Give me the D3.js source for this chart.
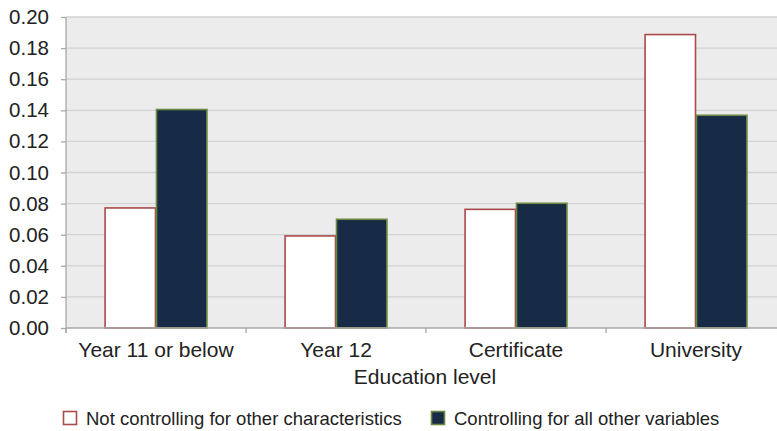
<!DOCTYPE html>
<html>
<head>
<meta charset="utf-8">
<script src="https://cdn.jsdelivr.net/npm/d3@7"></script>
<style>
  html, body { margin: 0; padding: 0; background: #fff; }
  svg { display: block; font-family: "Liberation Sans", Arial, Helvetica, sans-serif; }
</style>
</head>
<body>
<svg id="chart" width="777" height="431"></svg>
<script>
// Education level categories and the two estimate series
const categories = ["Year 11 or below", "Year 12", "Certificate", "University"];
const seriesNames = ["Not controlling for other characteristics", "Controlling for all other variables"];
const notControlling = [0.0772, 0.0592, 0.0763, 0.1887];
const controlling = [0.1405, 0.0699, 0.0802, 0.1368];
const yTicks = [0, 0.02, 0.04, 0.06, 0.08, 0.10, 0.12, 0.14, 0.16, 0.18, 0.20];

const rows = categories.map((c, i) => ({ category: c, values: [notControlling[i], controlling[i]] }));

const svg = d3.select("#chart");
const margin = { left: 66, top: 17, bottom: 328 };
const plotRight = 786; // plot extends slightly past the canvas edge

const x0 = d3.scaleBand().domain(categories).range([margin.left, plotRight]).padding(0);
const x1 = d3.scaleBand().domain([0, 1]).range([0, x0.bandwidth()]).paddingInner(0).paddingOuter(0.75);
const y = d3.scaleLinear().domain([0, 0.20]).range([margin.bottom, margin.top]);

const fills = ["#ffffff", "#172a46"];
const strokes = ["#a94a4a", "#6b8740"];
const axisColor = "#a8a8a8";

// plot background
svg.append("rect")
  .attr("x", margin.left).attr("y", y(0.20))
  .attr("width", plotRight - margin.left).attr("height", y(0) - y(0.20))
  .attr("fill", "#ececec");

// horizontal grid lines
svg.append("g").selectAll("line").data(yTicks.filter(d => d > 0)).join("line")
  .attr("x1", margin.left).attr("x2", plotRight)
  .attr("y1", d => y(d)).attr("y2", d => y(d))
  .attr("stroke", "#d2d2d2").attr("stroke-width", 1.3);

// bars
const groups = svg.append("g").selectAll("g").data(rows).join("g")
  .attr("transform", d => `translate(${x0(d.category)},0)`);
groups.selectAll("rect").data(d => d.values.map((v, k) => ({ v, k }))).join("rect")
  .attr("x", d => x1(d.k) + 0.5)
  .attr("width", x1.bandwidth() - 1)
  .attr("y", d => y(d.v))
  .attr("height", d => y(0) - y(d.v))
  .attr("fill", d => fills[d.k])
  .attr("stroke", d => strokes[d.k])
  .attr("stroke-width", 1.6);

// y axis
const yAxis = svg.append("g")
  .attr("transform", `translate(${margin.left},0)`)
  .call(d3.axisLeft(y).tickValues(yTicks).tickFormat(d3.format(".2f")).tickSize(5).tickPadding(12));
yAxis.select(".domain").attr("d", `M0,${y(0.20)}V${y(0) + 5}`);
yAxis.selectAll("line, .domain").attr("stroke", axisColor).attr("stroke-width", 1.3);
yAxis.selectAll("text").attr("font-size", 20.5).attr("fill", "#222")
  .attr("font-family", "Liberation Sans, Arial, sans-serif");

// x axis with ticks at category boundaries
const xg = svg.append("g").attr("transform", `translate(0,${y(0)})`);
xg.append("line").attr("x1", margin.left).attr("x2", plotRight)
  .attr("stroke", axisColor).attr("stroke-width", 1.3);
xg.selectAll("line.tick").data(categories).join("line").attr("class", "tick")
  .attr("x1", d => x0(d)).attr("x2", d => x0(d))
  .attr("y1", 0).attr("y2", 5)
  .attr("stroke", axisColor).attr("stroke-width", 1.3);
xg.selectAll("text").data(categories).join("text")
  .attr("x", d => x0(d) + x0.bandwidth() / 2)
  .attr("y", 29)
  .attr("text-anchor", "middle")
  .attr("font-size", 21).attr("fill", "#222")
  .text(d => d);

// axis title, centred under the visible part of the plot
svg.append("text")
  .attr("x", 425)
  .attr("y", 384)
  .attr("text-anchor", "middle")
  .attr("font-size", 21).attr("fill", "#222")
  .text("Education level");

// legend
const legendX = [63, 431];
const legend = svg.append("g").selectAll("g").data(seriesNames).join("g")
  .attr("transform", (d, i) => `translate(${legendX[i]},411)`);
legend.append("rect")
  .attr("x", 0.5).attr("y", 0.5).attr("width", 13).attr("height", 13)
  .attr("fill", (d, i) => fills[i]).attr("stroke", (d, i) => strokes[i]).attr("stroke-width", 1.6);
legend.append("text")
  .attr("x", 23).attr("y", 13.5)
  .attr("font-size", 18.5).attr("fill", "#222")
  .text(d => d);
</script>
</body>
</html>
